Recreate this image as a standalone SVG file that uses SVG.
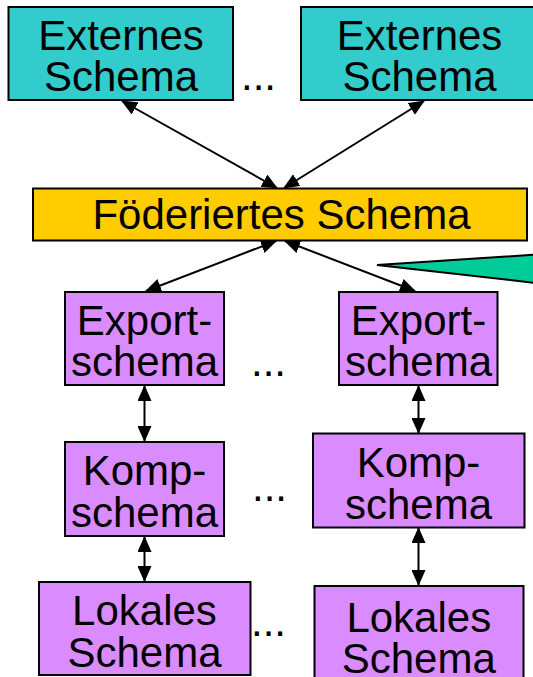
<svg xmlns="http://www.w3.org/2000/svg" width="533" height="677" viewBox="0 0 533 677">
<style>
  .box { stroke: #000; stroke-width: 2; }
  .ext { fill: #33CCCC; }
  .fed { fill: #FFCC00; }
  .pur { fill: #DA8CFF; }
  text { font-family: "Liberation Sans", Arial, sans-serif; font-size: 42px; fill: #000; }
  .c { text-anchor: middle; }
  .conn { stroke: #000; stroke-width: 2; fill: none; marker-start: url(#ah); marker-end: url(#ah); }
</style>
<defs>
  <marker id="ah" markerUnits="userSpaceOnUse" markerWidth="16" markerHeight="14" refX="15" refY="7" orient="auto-start-reverse">
    <path d="M0,0 L16,7 L0,14 z" fill="#000"/>
  </marker>
</defs>
<rect x="0" y="0" width="533" height="677" fill="#fff"/>
<g id="connectors">
  <line class="conn" x1="122" y1="101" x2="277" y2="188"/>
  <line class="conn" x1="424" y1="101" x2="284" y2="188"/>
  <line class="conn" x1="276" y1="241" x2="146" y2="291"/>
  <line class="conn" x1="285" y1="241" x2="415" y2="291"/>
  <line class="conn" x1="144.5" y1="386" x2="144.5" y2="441"/>
  <line class="conn" x1="418.5" y1="386" x2="418.5" y2="433"/>
  <line class="conn" x1="144.5" y1="537" x2="144.5" y2="581"/>
  <line class="conn" x1="418.5" y1="528" x2="418.5" y2="585"/>
</g>
<g id="ext1">
  <rect class="box ext" x="8.5" y="7" width="224.5" height="93"/>
  <text class="c" x="121" y="50">Externes</text>
  <text class="c" x="121" y="91">Schema</text>
</g>
<g id="ext2">
  <rect class="box ext" x="301" y="7" width="240" height="93"/>
  <text class="c" x="419.5" y="50">Externes</text>
  <text class="c" x="419.5" y="91">Schema</text>
</g>
<g id="dots-top"><text x="241" y="90">...</text></g>
<g id="fed">
  <rect class="box fed" x="33" y="188.5" width="494" height="52"/>
  <text class="c" x="281.5" y="229">Föderiertes Schema</text>
</g>
<g id="callout">
  <polygon points="377,265 545,254 545,284" fill="#00CC99" stroke="#000" stroke-width="2" stroke-linejoin="miter"/>
</g>
<g id="exp1">
  <rect class="box pur" x="65" y="292" width="159" height="93"/>
  <text class="c" x="144.5" y="335">Export-</text>
  <text class="c" x="144.5" y="376">schema</text>
</g>
<g id="exp2">
  <rect class="box pur" x="339" y="292" width="158.5" height="93"/>
  <text class="c" x="418.5" y="335">Export-</text>
  <text class="c" x="418.5" y="376">schema</text>
</g>
<g id="dots-exp"><text x="251" y="376">...</text></g>
<g id="komp1">
  <rect class="box pur" x="65" y="442" width="159" height="94"/>
  <text class="c" x="144.5" y="485">Komp-</text>
  <text class="c" x="144.5" y="527">schema</text>
</g>
<g id="komp2">
  <rect class="box pur" x="313" y="433.5" width="211.5" height="94"/>
  <text class="c" x="418.5" y="477">Komp-</text>
  <text class="c" x="418.5" y="518.5">schema</text>
</g>
<g id="dots-komp"><text x="252" y="501">...</text></g>
<g id="lok1">
  <rect class="box pur" x="39" y="582" width="211.5" height="93"/>
  <text class="c" x="144.5" y="625">Lokales</text>
  <text class="c" x="144.5" y="667">Schema</text>
</g>
<g id="lok2">
  <rect class="box pur" x="314.5" y="586" width="209" height="100"/>
  <text class="c" x="418.8" y="632">Lokales</text>
  <text class="c" x="418.8" y="673">Schema</text>
</g>
<g id="dots-lok"><text x="251" y="636">...</text></g>
</svg>
